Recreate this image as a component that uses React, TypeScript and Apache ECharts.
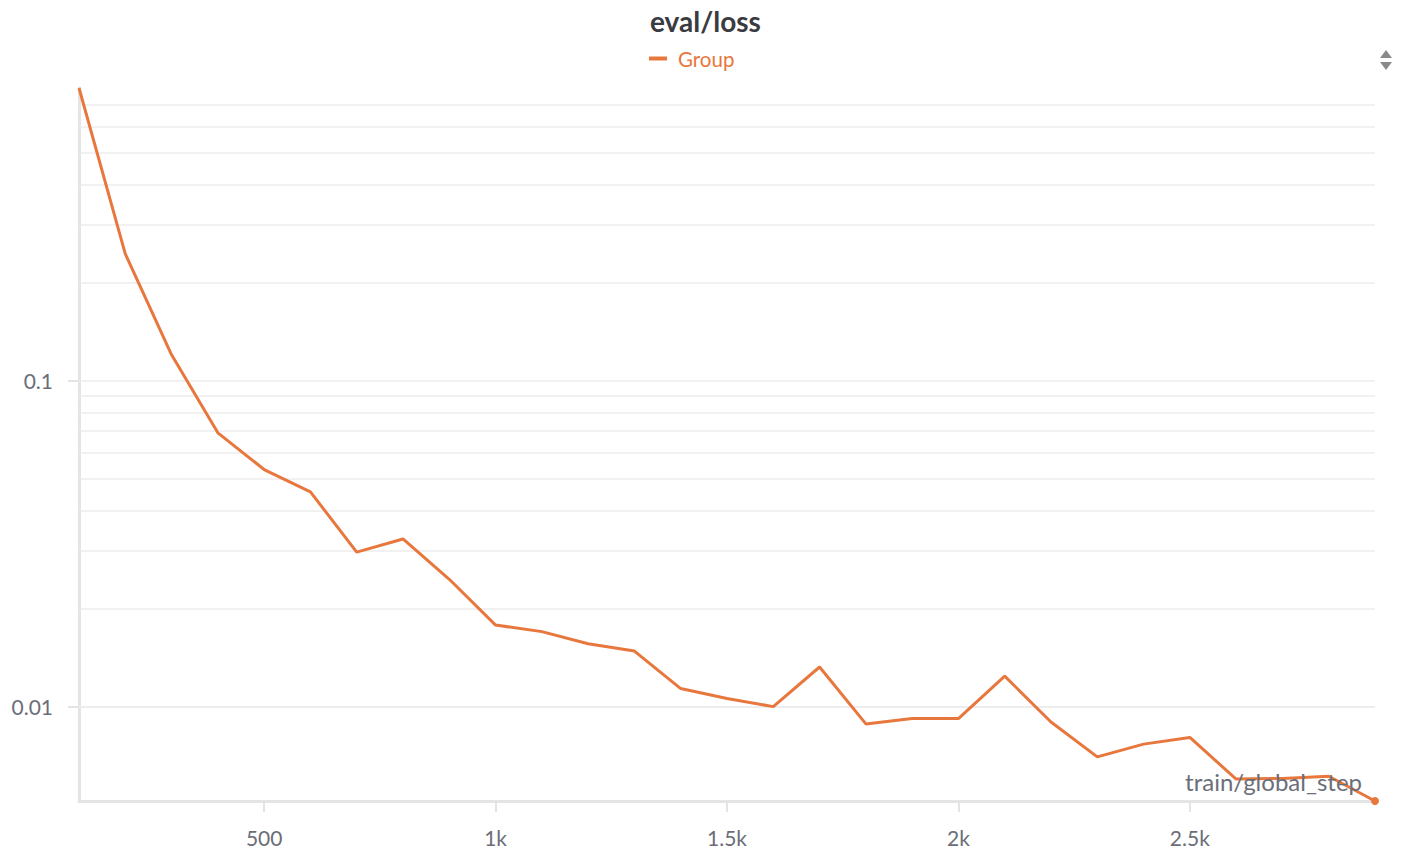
import React, { useEffect, useRef } from "react";
import * as echarts from "echarts";

const steps = [100, 200, 300, 400, 500, 600, 700, 800, 900, 1000, 1100, 1200, 1300, 1400, 1500, 1600, 1700, 1800, 1900, 2000, 2100, 2200, 2300, 2400, 2500, 2600, 2700, 2800, 2900];
const lossValues = [0.790, 0.2449, 0.1201, 0.0692, 0.0534, 0.0456, 0.0298, 0.0327, 0.0246, 0.0178, 0.0170, 0.0156, 0.01482, 0.01137, 0.01060, 0.01001, 0.01324, 0.00886, 0.00920, 0.00920, 0.01242, 0.00898, 0.00702, 0.00768, 0.00805, 0.00600, 0.00603, 0.00612, 0.00514];
const xTickValues = [500, 1000, 1500, 2000, 2500];
const yTickValues = [0.01, 0.1];
const yGridValues = [0.006, 0.007, 0.008, 0.009, 0.01, 0.02, 0.03, 0.04, 0.05, 0.06, 0.07, 0.08, 0.09, 0.1, 0.2, 0.3, 0.4, 0.5, 0.6, 0.7];
const seriesName = "Group";
const titleText = "eval/loss";
const xAxisName = "train/global_step";

const FONT = "Lato, 'Noto Sans', sans-serif";
const ORANGE = "#e8773d";
const AXIS_GREY = "#e4e4e7";
const TEXT_GREY = "#6b6e78";

export default function App() {
  const ref = useRef<HTMLDivElement>(null);
  useEffect(() => {
    if (!ref.current) return;
    const chart = echarts.init(ref.current, null, { renderer: "svg" });
    const data = steps.map((s, i) =>
      i === steps.length - 1
        ? { value: [s, lossValues[i]], symbol: "circle", symbolSize: 8 }
        : { value: [s, lossValues[i]], symbol: "none" }
    );
    const fmtX = (v: number) => (v >= 1000 ? `${v / 1000}k` : `${v}`);
    chart.setOption({
      animation: false,
      textStyle: { fontFamily: FONT },
      title: {
        text: titleText,
        left: 645,
        top: 2,
        textStyle: { fontFamily: FONT, fontSize: 28, fontWeight: "bold", color: "#3a3b40" },
      },
      legend: {
        top: 43,
        left: 644,
        icon: "rect",
        itemWidth: 18,
        itemHeight: 4,
        itemGap: 11,
        textStyle: { fontFamily: FONT, fontSize: 20.5, color: ORANGE, padding: [0, 0, 0, 6] },
        data: [{ name: seriesName, itemStyle: { color: ORANGE } }],
      },
      grid: { left: 79, right: 49, top: 88, bottom: 67, containLabel: false },
      xAxis: {
        type: "value",
        min: Math.min(...steps),
        max: Math.max(...steps),
        axisLine: { show: true, lineStyle: { color: AXIS_GREY, width: 3 } },
        axisTick: { show: true, customValues: xTickValues, length: 11, lineStyle: { color: AXIS_GREY, width: 2 } },
        axisLabel: {
          customValues: xTickValues,
          formatter: fmtX,
          color: TEXT_GREY,
          fontSize: 21,
          fontFamily: FONT,
          margin: 26,
        },
        splitLine: { show: false },
      },
      yAxis: {
        type: "log",
        logBase: 10,
        min: Math.min(...lossValues),
        max: Math.max(...lossValues),
        axisLine: { show: true, onZero: false, lineStyle: { color: AXIS_GREY, width: 3 } },
        axisTick: { show: true, customValues: yTickValues, length: 11, lineStyle: { color: AXIS_GREY, width: 2 } },
        axisLabel: {
          customValues: yTickValues,
          formatter: (v: number) => `${v}`,
          color: TEXT_GREY,
          fontSize: 21,
          fontFamily: FONT,
          margin: 26,
        },
        splitLine: { show: false },
        minorSplitLine: { show: false },
      },
      graphic: [
        {
          type: "text",
          right: 62,
          top: 769,
          style: { text: xAxisName, fontFamily: FONT, fontSize: 24, fill: TEXT_GREY },
          z: 10,
        },
        {
          type: "polygon",
          shape: { points: [[1380, 58], [1386, 50], [1392, 58]] },
          style: { fill: "#8a8a8a" },
        },
        {
          type: "polygon",
          shape: { points: [[1380, 62], [1386, 70], [1392, 62]] },
          style: { fill: "#8a8a8a" },
        },
      ],
      series: [
        {
          name: seriesName,
          type: "line",
          data,
          showSymbol: true,
          color: ORANGE,
          itemStyle: { color: ORANGE },
          lineStyle: { color: ORANGE, width: 3 },
          z: 5,
          markLine: {
            silent: true,
            symbol: ["none", "none"],
            label: { show: false },
            lineStyle: { color: "#ececee", width: 1.5, type: "solid" },
            data: yGridValues.map((v) => ({ yAxis: v })),
            z: 1,
          },
        },
      ],
    });
    return () => chart.dispose();
  }, []);
  return (
    <div
      ref={ref}
      style={{ position: "fixed", left: 0, top: 0, width: 1424, height: 868, background: "#fff" }}
    />
  );
}
